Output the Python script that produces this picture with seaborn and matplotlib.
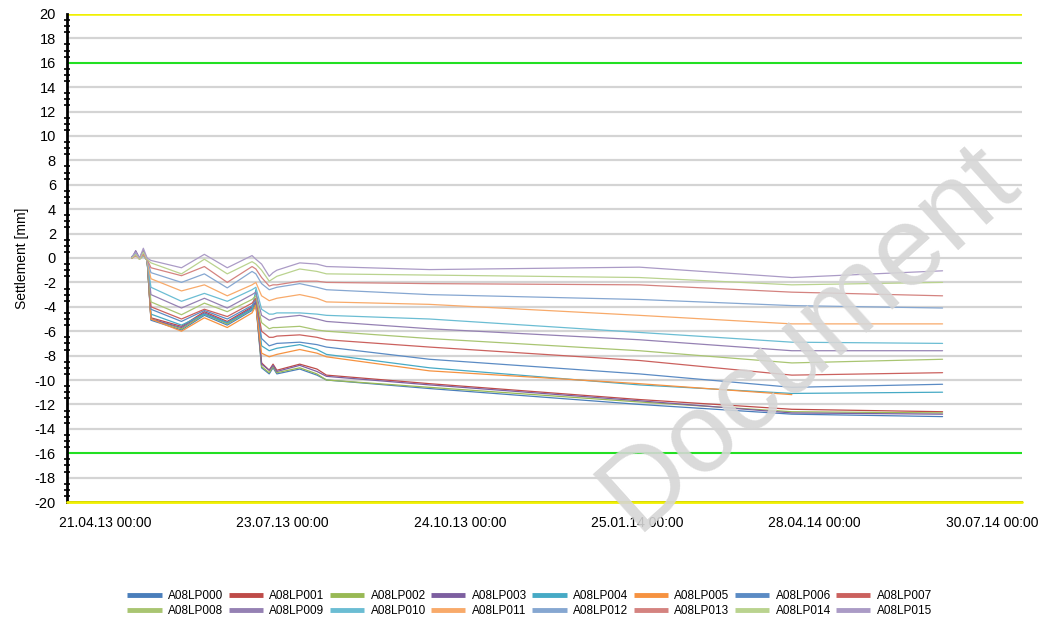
import numpy as np
import pandas as pd
import seaborn as sns
import matplotlib.pyplot as plt
import matplotlib.dates as mdates

nan = np.nan

dates = ["2013-05-05", "2013-05-07", "2013-05-09", "2013-05-11", "2013-05-13",
         "2013-05-15", "2013-05-31", "2013-06-12", "2013-06-24", "2013-07-07",
         "2013-07-09", "2013-07-12", "2013-07-16", "2013-07-18", "2013-07-20",
         "2013-08-01", "2013-08-10", "2013-08-15", "2013-10-08", "2014-01-26",
         "2014-04-16", "2014-07-04"]

lp000 = [0.0, 0.3, 0.0, 0.4, -0.2, -5.1, -5.9, -4.7, -5.5, -4.3, -3.8, -9.0, -9.5, -9.0, -9.5, -9.1, -9.6, -10.0, -10.7, -12.0, -12.8, -13.0]
lp001 = [0.0, 0.4, 0.0, 0.5, -0.1, -4.9, -5.6, -4.4, -5.2, -4.0, -3.6, -8.6, -9.2, -8.7, -9.2, -8.7, -9.1, -9.6, -10.3, -11.6, -12.4, -12.6]
lp002 = [0.1, 0.3, 0.0, 0.4, -0.2, -5.0, -5.8, -4.6, -5.4, -4.2, -3.7, -8.9, -9.4, -8.9, -9.4, -9.0, -9.5, -10.0, -10.6, -11.8, -12.6, -12.7]
lp003 = [0.0, 0.6, 0.0, 0.6, -0.1, -5.0, -5.7, -4.5, -5.3, -4.1, -3.6, -8.7, -9.2, -8.8, -9.3, -8.8, -9.3, -9.7, -10.4, -11.7, -12.7, -12.8]
lp004 = [0.0, 0.3, -0.1, 0.2, -0.2, -4.6, -5.5, -4.6, -5.3, -4.2, -2.6, -7.2, -7.6, -7.5, -7.4, -7.1, -7.5, -7.9, -9.0, -10.4, -11.1, -11.0]
lp005 = [0.0, 0.2, 0.0, 0.3, -0.1, -5.0, -6.0, -4.9, -5.7, -4.5, -3.9, -7.8, -8.1, -8.0, -7.9, -7.5, -7.8, -8.1, -9.25, -10.3, -11.2, nan]
lp006 = [0.1, 0.2, 0.0, 0.3, -0.2, -4.2, -5.2, -4.3, -5.0, -3.9, -3.4, -6.6, -7.2, -7.1, -7.0, -6.9, -7.1, -7.3, -8.3, -9.5, -10.6, -10.35]
lp007 = [0.0, 0.3, 0.0, 0.4, -0.1, -4.0, -5.0, -4.2, -4.8, -3.7, -3.3, -6.0, -6.5, -6.5, -6.4, -6.3, -6.5, -6.7, -7.3, -8.4, -9.6, -9.4]
lp008 = [0.0, 0.4, -0.1, 0.2, -0.2, -3.6, -4.65, -3.7, -4.4, -3.4, -3.1, -5.3, -5.8, -5.7, -5.7, -5.6, -5.9, -6.0, -6.6, -7.6, -8.6, -8.3]
lp009 = [0.1, 0.2, 0.0, 0.3, -0.1, -3.0, -4.1, -3.3, -4.1, -3.0, -2.8, -4.7, -5.1, -5.0, -4.9, -4.7, -5.0, -5.2, -5.8, -6.7, -7.6, -7.6]
lp010 = [0.0, 0.3, 0.0, 0.2, -0.2, -2.4, -3.55, -2.9, -3.55, -2.6, -2.4, -4.2, -4.6, -4.6, -4.5, -4.5, -4.6, -4.7, -5.0, -6.1, -6.9, -7.0]
lp011 = [0.0, 0.2, -0.1, 0.3, -0.2, -1.7, -2.7, -2.2, -3.1, -2.2, -2.0, -3.1, -3.5, -3.4, -3.3, -3.0, -3.3, -3.6, -3.8, -4.7, -5.4, -5.4]
lp012 = [0.1, 0.4, 0.0, 0.4, -0.1, -1.2, -2.0, -1.3, -2.45, -1.1, -1.3, -2.1, -2.6, -2.5, -2.4, -2.1, -2.4, -2.6, -3.0, -3.4, -3.9, -4.1]
lp013 = [0.0, 0.2, 0.0, 0.3, -0.1, -0.8, -1.45, -0.7, -2.0, -0.7, -0.9, -1.6, -2.3, -2.2, -2.2, -1.9, -1.9, -2.0, -2.1, -2.2, -2.8, -3.1]
lp014 = [0.0, 0.3, -0.1, 0.5, -0.1, -0.4, -1.3, -0.1, -1.3, -0.3, -0.5, -1.0, -1.9, -1.7, -1.5, -0.9, -1.1, -1.3, -1.4, -1.6, -2.2, -2.0]
lp015 = [0.1, 0.5, 0.0, 0.8, 0.0, -0.2, -0.8, 0.3, -0.8, 0.2, -0.1, -0.5, -1.5, -1.2, -1.0, -0.4, -0.5, -0.7, -0.95, -0.75, -1.6, -1.05]

sensors = ["A08LP%03d" % i for i in range(16)]
series = [lp000, lp001, lp002, lp003, lp004, lp005, lp006, lp007,
          lp008, lp009, lp010, lp011, lp012, lp013, lp014, lp015]
colors = ["#4A7EBB", "#BE4B48", "#98B954", "#7D5FA0", "#46AAC5", "#F69240",
          "#5B8BC4", "#CB615E", "#A9C572", "#9581B3", "#6BBDD3", "#F8AA6A",
          "#86A7D1", "#D48380", "#BAD38F", "#AB9BC6"]

major_ticks = ["2013-04-21", "2013-07-23", "2013-10-24", "2014-01-25", "2014-04-28", "2014-07-30"]
limits = [20, 16, -16, -20]

rows = []
for name, vals in zip(sensors, series):
    for d, v in zip(dates, vals):
        rows.append((name, pd.Timestamp(d), v))
df = pd.DataFrame(rows, columns=["sensor", "date", "value"]).dropna()

sns.set_theme(style="white")
plt.rcParams.update({
    'font.family': ['Liberation Sans', 'DejaVu Sans'],
    'axes.unicode_minus': False,
    'text.color': 'black',
    'axes.labelcolor': 'black',
    'xtick.color': 'black',
    'ytick.color': 'black',
})

fig = plt.figure(figsize=(10.49, 6.19), dpi=100)
ax = fig.add_axes([0.0639, 0.189, 0.9104, 0.7884])

for y in range(-18, 20, 2):
    if abs(y) != 16:
        ax.axhline(y, color="#D4D4D4", linewidth=1.6, zorder=1)
ax.axhline(limits[0], color="#F0F000", linewidth=1.8, zorder=2)
ax.axhline(limits[3], color="#F0F000", linewidth=2.0, zorder=4, clip_on=False)
ax.axhline(limits[1], color="#22E022", linewidth=1.5, zorder=2)
ax.axhline(limits[2], color="#22E022", linewidth=1.5, zorder=2)

sns.lineplot(data=df, x="date", y="value", hue="sensor", hue_order=sensors,
             palette=dict(zip(sensors, colors)), linewidth=0.9, ax=ax,
             estimator=None, sort=True, zorder=3)

ax.set_ylim(-20, 20)
ax.set_xlim(pd.Timestamp("2013-04-01"), pd.Timestamp("2014-08-14 16:00"))
ax.set_yticks(range(-20, 21, 2))
ax.set_yticks(np.arange(-20, 20.1, 0.5), minor=True)

mj = pd.to_datetime(major_ticks)
mid = [a + (b - a) / 2 for a, b in zip(mj[:-1], mj[1:])]
ax.set_xticks(mj)
ax.set_xticks(mid, minor=True)
ax.xaxis.set_major_formatter(mdates.DateFormatter("%d.%m.%y %H:%M"))

ax.tick_params(axis="x", which="both", direction="out", length=6, width=1.6, labelsize=10, pad=4)
ax.tick_params(axis="y", which="major", direction="out", length=6, width=1.6, labelsize=10.5, pad=2)
ax.tick_params(axis="y", which="minor", direction="inout", length=5, width=1.2, left=True)
ax.yaxis.set_minor_formatter(plt.NullFormatter())

for side in ["top", "right"]:
    ax.spines[side].set_visible(False)
ax.spines["left"].set_color("black")
ax.spines["left"].set_linewidth(2)
ax.spines["bottom"].set_color("black")
ax.spines["bottom"].set_linewidth(1.2)

ax.set_xlabel("")
ax.set_ylabel("Settlement [mm]", fontsize=10, labelpad=4)

handles, labels = ax.get_legend_handles_labels()
ax.get_legend().remove()
order = []
for i in range(8):
    order += [i, i + 8]
leg = fig.legend([handles[i] for i in order], [labels[i] for i in order],
                 loc="center", bbox_to_anchor=(0.505, 0.025), ncol=8, frameon=False,
                 fontsize=8.5, handlelength=2.9, handletextpad=0.55, columnspacing=0.45,
                 labelspacing=0.3)
for ln in leg.get_lines():
    ln.set_linewidth(3.5)
    ln.set_solid_capstyle("butt")

fig.text(0.772, 0.455, "Document", fontsize=82, color="#D6D6D6", alpha=0.9,
         rotation=42, rotation_mode="anchor", ha="center", va="center", zorder=10)

fig.savefig("out.png", dpi=100)
plt.close(fig)
